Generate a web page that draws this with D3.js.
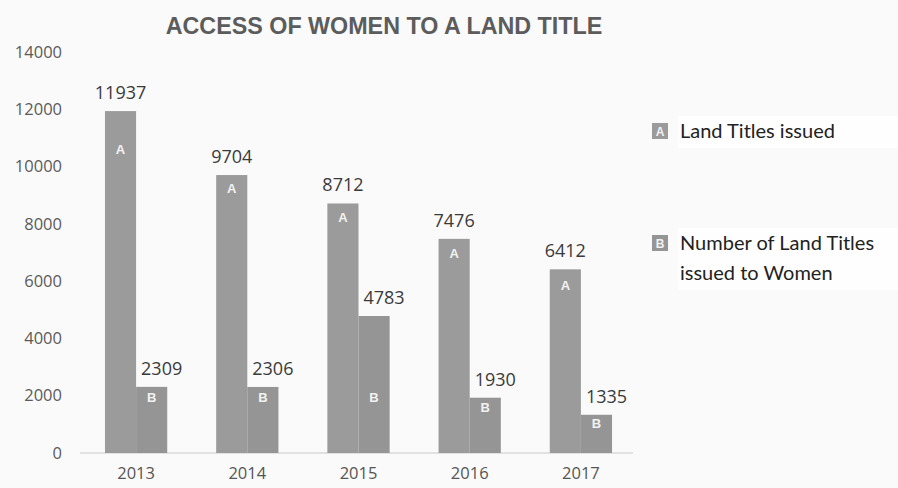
<!DOCTYPE html>
<html>
<head>
<meta charset="utf-8">
<script src="https://cdn.jsdelivr.net/npm/d3@7"></script>
<style>
  body { margin: 0; background: #fafafa; }
  svg { display: block; }
</style>
</head>
<body>
<div class="canvas"></div>
<script>
// chart data
const years = ["2013", "2014", "2015", "2016", "2017"];
const landTitles = [11937, 9704, 8712, 7476, 6412];
const womenTitles = [2309, 2306, 4783, 1930, 1335];
// where the little A / B marks sit (value units)
const markA = [10600, 9250, 8240, 6980, 5870];
const markB = [1950, 1950, 1950, 1600, 1050];
const yTicks = [0, 2000, 4000, 6000, 8000, 10000, 12000, 14000];
const legendA = ["Land Titles issued"];
const legendB = ["Number of Land Titles", "issued to Women"];

const width = 898, height = 488;
const colA = "#9b9b9b", colB = "#959595";

const svg = d3.select(".canvas").append("svg")
    .attr("width", width)
    .attr("height", height);

svg.append("rect").attr("width", width).attr("height", height).attr("fill", "#fafafa");

// scales
const x = d3.scaleBand()
    .domain(years)
    .range([80.5, 636.5])
    .paddingInner(0.44)
    .paddingOuter(0.22);
const y = d3.scaleLinear()
    .domain([0, 14000])
    .range([453, 52]);
const barW = x.bandwidth() / 2;

// title
svg.append("text")
    .attr("x", 384).attr("y", 34)
    .attr("text-anchor", "middle")
    .attr("font-family", "Liberation Sans, Arial, sans-serif")
    .attr("font-weight", "bold")
    .attr("font-size", 23.3)
    .attr("fill", "#5c5c5c")
    .text("ACCESS OF WOMEN TO A LAND TITLE");

// y axis labels
const yAxis = d3.axisLeft(y).tickValues(yTicks).tickFormat(d3.format("d")).tickSize(0).tickPadding(0);
const yG = svg.append("g").attr("transform", "translate(62,0)").call(yAxis);
yG.select(".domain").remove();
yG.selectAll("text")
    .attr("font-family", "Open Sans, sans-serif")
    .attr("font-size", 16.5)
    .attr("fill", "#5a5a5a");

// x axis
const xAxis = d3.axisBottom(x).tickSize(0).tickPadding(14);
const xG = svg.append("g").attr("transform", "translate(0,453)").call(xAxis);
xG.select(".domain").attr("stroke", "#d9d9d9").attr("stroke-width", 1.5)
    .attr("d", "M80,0H633");
xG.selectAll("text")
    .attr("font-family", "Open Sans, sans-serif")
    .attr("font-size", 16.5)
    .attr("fill", "#555");

// bars
const g = svg.append("g");
g.selectAll("rect.a").data(landTitles).enter().append("rect")
    .attr("class", "a")
    .attr("x", (d, i) => x(years[i]))
    .attr("y", d => y(d))
    .attr("width", barW)
    .attr("height", d => y(0) - y(d))
    .attr("fill", colA);
g.selectAll("rect.b").data(womenTitles).enter().append("rect")
    .attr("class", "b")
    .attr("x", (d, i) => x(years[i]) + barW)
    .attr("y", d => y(d))
    .attr("width", barW)
    .attr("height", d => y(0) - y(d))
    .attr("fill", colB);

// value labels
g.selectAll("text.va").data(landTitles).enter().append("text")
    .attr("x", (d, i) => x(years[i]) + barW / 2)
    .attr("y", d => y(d) - 12)
    .attr("text-anchor", "middle")
    .attr("font-family", "Open Sans, sans-serif")
    .attr("font-size", 18)
    .attr("fill", "#3a3a3a")
    .text(d => d);
g.selectAll("text.vb").data(womenTitles).enter().append("text")
    .attr("x", (d, i) => x(years[i]) + barW * 1.5 + 10)
    .attr("y", d => y(d) - 12)
    .attr("text-anchor", "middle")
    .attr("font-family", "Open Sans, sans-serif")
    .attr("font-size", 18)
    .attr("fill", "#3a3a3a")
    .text(d => d);

// A / B marks inside bars
g.selectAll("text.ma").data(markA).enter().append("text")
    .attr("x", (d, i) => x(years[i]) + barW / 2)
    .attr("y", d => y(d) + 5)
    .attr("text-anchor", "middle")
    .attr("font-family", "Liberation Sans, Arial, sans-serif")
    .attr("font-weight", "bold")
    .attr("font-size", 13)
    .attr("fill", "#f2f2f2")
    .text("A");
g.selectAll("text.mb").data(markB).enter().append("text")
    .attr("x", (d, i) => x(years[i]) + barW * 1.5)
    .attr("y", d => y(d) + 5)
    .attr("text-anchor", "middle")
    .attr("font-family", "Liberation Sans, Arial, sans-serif")
    .attr("font-weight", "bold")
    .attr("font-size", 13)
    .attr("fill", "#f2f2f2")
    .text("B");

// legend
const legend = svg.append("g");
const items = [
    { lines: legendA, letter: "A", col: colA, cy: 131 },
    { lines: legendB, letter: "B", col: colB, cy: 243 }
];
items.forEach(item => {
    legend.append("rect")
        .attr("x", 678).attr("y", item.cy - 15)
        .attr("width", 220).attr("height", item.lines.length * 30 + 2)
        .attr("fill", "#fefefe");
    legend.append("rect")
        .attr("x", 652).attr("y", item.cy - 8)
        .attr("width", 16).attr("height", 16)
        .attr("fill", item.col);
    legend.append("text")
        .attr("x", 660).attr("y", item.cy + 4.5)
        .attr("text-anchor", "middle")
        .attr("font-family", "Liberation Sans, Arial, sans-serif")
        .attr("font-weight", "bold")
        .attr("font-size", 12)
        .attr("fill", "#f2f2f2")
        .text(item.letter);
    item.lines.forEach((line, k) => {
        legend.append("text")
            .attr("x", 680).attr("y", item.cy + 7 + k * 30)
            .attr("font-family", "Lato, sans-serif")
            .attr("font-size", 20)
            .attr("fill", "#222")
            .text(line);
    });
});
</script>
</body>
</html>
